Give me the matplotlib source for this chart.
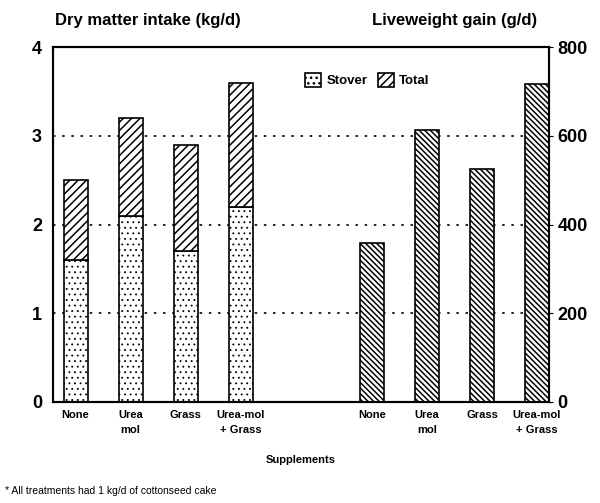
import matplotlib
matplotlib.use("Agg")
import matplotlib.pyplot as plt
import numpy as np

plt.rcParams['font.family'] = ['Liberation Sans', 'DejaVu Sans']

categories = ["None", "Urea\nmol", "Grass", "Urea-mol\n+ Grass"]
stover = [1.6, 2.1, 1.7, 2.2]
total = [2.5, 3.2, 2.9, 3.6]
lwg = [358, 613, 525, 717]

fig = plt.figure(figsize=(6.0, 5.03), dpi=100)
ax = fig.add_axes([53/600, 101/503, 496/600, 355/503])
ax2 = ax.twinx()

spacing = 55
w = 24
idx = np.arange(len(categories))
xl = 75.5 + idx * spacing
xr = 372 + idx * spacing

plt.rcParams['hatch.linewidth'] = 0.6
ax.bar(xl, stover, width=w, color='white', edgecolor='black', hatch='...', linewidth=1.2, label='Stover')
plt.rcParams['hatch.linewidth'] = 1.1
ax.bar(xl, np.array(total) - np.array(stover), bottom=stover, width=w, color='white',
       edgecolor='black', hatch='////', linewidth=1.2, label='Total')
ax2.bar(xr, lwg, width=w, color='white', edgecolor='black', hatch='\\\\\\\\\\\\', linewidth=1.2)

ax.set_xlim(53, 549)
ax.set_ylim(0, 4)
ax2.set_ylim(0, 800)
for y in [1, 2, 3]:
    ax.axhline(y, color='black', linestyle=(0, (1.5, 4)), linewidth=1.2, zorder=0)

ax.set_yticks([0, 1, 2, 3, 4])
ax2.set_yticks([0, 200, 400, 600, 800])
ax.tick_params(axis='y', length=0, labelsize=13, pad=8)
ax2.tick_params(axis='y', length=3, labelsize=13, pad=3)
for lab in ax.get_yticklabels() + ax2.get_yticklabels():
    lab.set_fontweight('bold')

ax.set_xticks(np.concatenate([xl, xr]))
ax.set_xticklabels(categories + categories, fontsize=8, fontweight='bold', linespacing=1.6)
ax.tick_params(axis='x', length=0, pad=6)

for a in (ax, ax2):
    for s in a.spines.values():
        s.set_linewidth(1.5)

fig.text(55/600, 1 - 20/503, "Dry matter intake (kg/d)", fontsize=12, fontweight='bold', va='center', ha='left')
fig.text(372/600, 1 - 20/503, "Liveweight gain (g/d)", fontsize=12, fontweight='bold', va='center', ha='left')
fig.text(301/600, 1 - 460/503, "Supplements", fontsize=8, fontweight='bold', va='center', ha='center')
fig.text(5/600, 1 - 491/503, "* All treatments had 1 kg/d of cottonseed cake", fontsize=7.5, va='center', ha='left')

leg = ax.legend(loc='upper left', bbox_to_anchor=(0.485, 0.96), ncol=2, frameon=False,
                handlelength=1.2, handleheight=1.2, columnspacing=0.8,
                handletextpad=0.4, prop={'weight': 'bold', 'size': 9.5})

fig.savefig("out.png", dpi=100)
